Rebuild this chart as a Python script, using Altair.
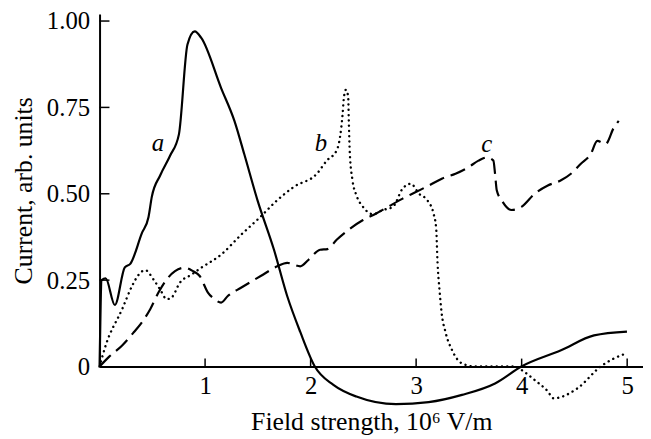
import altair as alt
import pandas as pd

# ---- data ----
a_x = [0, 0.02, 0.058, 0.145, 0.239, 0.293, 0.401, 0.464, 0.495, 0.574, 0.668, 0.752, 0.833, 0.902, 0.964,
       1.152, 1.278, 1.371, 1.497, 1.653, 1.778, 1.902, 2.04, 2.216, 2.434, 2.809, 3.119, 3.435, 3.748,
       3.998, 4.373, 4.686, 4.998]
a_y = [0, 0.25, 0.255, 0.178, 0.287, 0.298, 0.386, 0.433, 0.491, 0.553, 0.610, 0.672, 0.932, 0.970, 0.951,
       0.806, 0.711, 0.615, 0.481, 0.338, 0.204, 0.100, 0.0, -0.053, -0.087, -0.109, -0.103, -0.082, -0.049,
       0.0, 0.047, 0.090, 0.101]

b_x = [0, 0.058, 0.214, 0.308, 0.371, 0.433, 0.511, 0.574, 0.636, 0.683, 0.762, 0.871, 0.964, 1.152, 1.340,
       1.527, 1.668, 1.841, 2.059, 2.153, 2.246, 2.278, 2.303, 2.315, 2.334, 2.356, 2.362, 2.372, 2.397,
       2.434, 2.497, 2.591, 2.685, 2.779, 2.872, 2.95, 3.028, 3.107, 3.169, 3.19, 3.203, 3.222, 3.241,
       3.279, 3.341, 3.435, 3.56, 3.935, 3.998, 4.123, 4.248, 4.301, 4.529, 4.749, 4.873, 4.983]
b_y = [0, 0.061, 0.166, 0.233, 0.266, 0.279, 0.252, 0.223, 0.195, 0.2, 0.243, 0.266, 0.286, 0.324, 0.381,
       0.434, 0.477, 0.52, 0.558, 0.596, 0.625, 0.663, 0.73, 0.777, 0.801, 0.782, 0.711, 0.615, 0.539,
       0.496, 0.462, 0.441, 0.453, 0.462, 0.515, 0.529, 0.5, 0.481, 0.438, 0.40, 0.30, 0.22, 0.157,
       0.099, 0.047, 0.009, 0.0, 0.0, -0.01, -0.039, -0.072, -0.092, -0.063, 0.0, 0.023, 0.037]

c_x = [0, 0.089, 0.214, 0.324, 0.401, 0.480, 0.558, 0.636, 0.715, 0.809, 0.886, 0.949, 1.027, 1.090, 1.152,
       1.215, 1.340, 1.527, 1.684, 1.778, 1.902, 1.981, 2.090, 2.16, 2.247, 2.356, 2.497, 2.622, 2.732,
       2.872, 2.997, 3.122, 3.248, 3.373, 3.497, 3.591, 3.670, 3.732, 3.748, 3.764, 3.811, 3.904, 3.998,
       4.123, 4.248, 4.373, 4.467, 4.561, 4.655, 4.717, 4.795, 4.873, 4.920]
c_y = [0, 0.028, 0.061, 0.099, 0.128, 0.166, 0.214, 0.252, 0.276, 0.286, 0.276, 0.262, 0.214, 0.195, 0.185,
       0.204, 0.228, 0.262, 0.29, 0.30, 0.29, 0.309, 0.338, 0.340, 0.367, 0.395, 0.424, 0.443, 0.462,
       0.486, 0.505, 0.524, 0.544, 0.558, 0.577, 0.596, 0.605, 0.596, 0.558, 0.51, 0.481, 0.453, 0.462,
       0.5, 0.524, 0.539, 0.558, 0.587, 0.615, 0.653, 0.644, 0.691, 0.711]

label_text = ["a", "b", "c"]
label_x = [0.553, 2.097, 3.670]
label_y = [0.625, 0.625, 0.622]

x_ticks = [1, 2, 3, 4, 5]
y_ticks = [0, 0.25, 0.5, 0.75, 1.0]
y_inner_ticks = [0.25, 0.5, 0.75, 1.0]

x_title = "Field strength, 10\u2076 V/m"
y_title = "Current, arb. units"

# ---- layout ----
W, H = 549, 356
FONT = "Liberation Serif"

df_a = pd.DataFrame({"x": a_x, "y": a_y})
df_b = pd.DataFrame({"x": b_x, "y": b_y})
df_c = pd.DataFrame({"x": c_x, "y": c_y})
df_lab = pd.DataFrame({"x": label_x, "y": label_y, "t": label_text})
df_xt = pd.DataFrame({"x": x_ticks})
df_yt = pd.DataFrame({"y": y_inner_ticks})

xs = alt.Scale(domain=[0, 5.15], nice=False, zero=False)
ys = alt.Scale(domain=[0, 1.02], nice=False, zero=False)

ax_x = alt.Axis(orient="bottom", values=x_ticks, format="d", ticks=False, tickSize=0, grid=False,
                domain=True, domainColor="black", domainWidth=2,
                labelFont=FONT, labelFontSize=25, labelColor="black", labelPadding=7,
                title=x_title, titleFont=FONT, titleFontSize=26, titleFontWeight="normal",
                titleColor="black", titlePadding=11)
ax_y = alt.Axis(orient="left", values=y_ticks, ticks=False, tickSize=0, grid=False,
                labelExpr="datum.value == 0 ? '0' : format(datum.value, '.2f')",
                domain=True, domainColor="black", domainWidth=2,
                labelFont=FONT, labelFontSize=25, labelColor="black", labelPadding=10,
                title=y_title, titleFont=FONT, titleFontSize=26, titleFontWeight="normal",
                titleColor="black", titlePadding=10)

X = alt.X("x:Q", scale=xs, axis=ax_x)
Y = alt.Y("y:Q", scale=ys, axis=ax_y)

line_a = alt.Chart(df_a).mark_line(color="black", strokeWidth=2.2, interpolate="monotone").encode(x=X, y=Y)
line_b = alt.Chart(df_b).mark_line(color="black", strokeWidth=2.4, strokeDash=[0.1, 5.2],
                                   strokeCap="round", interpolate="monotone").encode(x=X, y=Y)
line_c = alt.Chart(df_c).mark_line(color="black", strokeWidth=2.2, strokeDash=[16, 7],
                                   interpolate="monotone").encode(x=X, y=Y)
labels = alt.Chart(df_lab).mark_text(font=FONT, fontStyle="italic", fontSize=25, color="black",
                                      align="center", baseline="alphabetic").encode(x=X, y=Y, text="t:N")

# inward tick marks
xticks = alt.Chart(df_xt).mark_rule(color="black", strokeWidth=1.5).encode(
    x=X, y=alt.value(H), y2=alt.value(H - 8)
)
yticks = alt.Chart(df_yt).mark_rule(color="black", strokeWidth=1.5).encode(
    y=Y, x=alt.value(0), x2=alt.value(10)
)

chart = alt.layer(line_a, line_b, line_c, labels, xticks, yticks).properties(
    width=W, height=H,
    autosize=alt.AutoSizeParams(type="none"),
    padding={"left": 92.5, "top": 4, "right": 0, "bottom": 68},
    background="white",
).configure_view(stroke=None)

chart.save("out.html", embed_options={"renderer": "svg", "actions": False})
